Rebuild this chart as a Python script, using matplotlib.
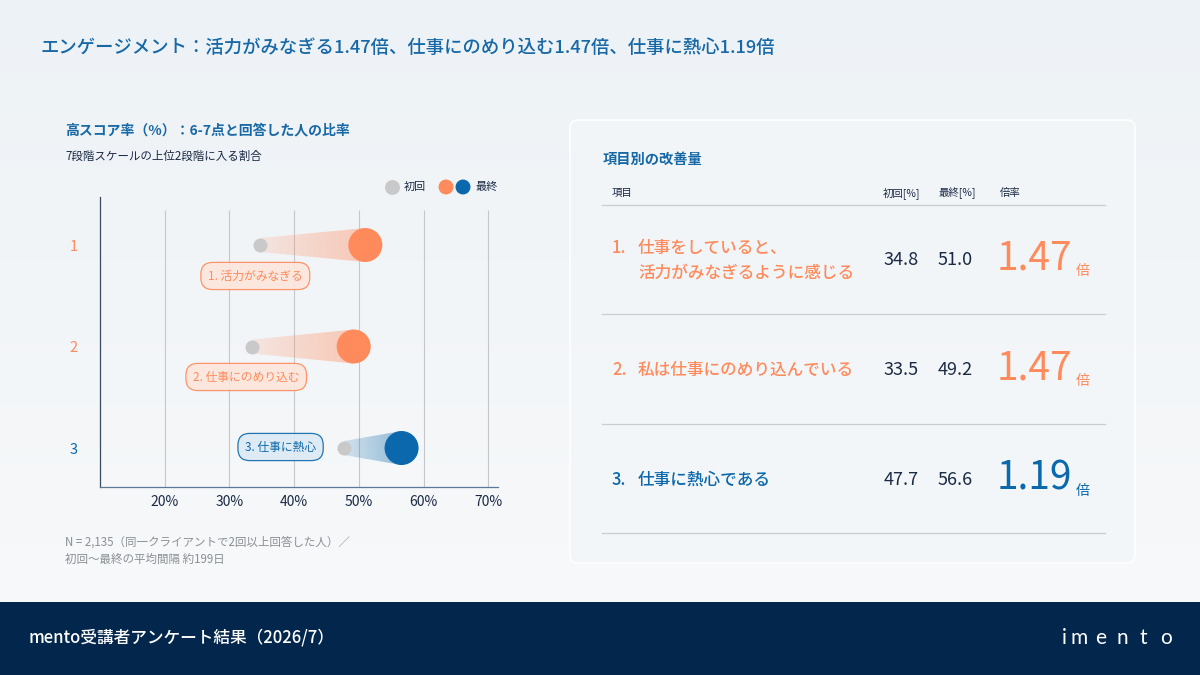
import numpy as np
import matplotlib
matplotlib.use('Agg')
import matplotlib.pyplot as plt
from matplotlib.patches import FancyBboxPatch, Polygon, Rectangle

plt.rcParams['font.family'] = ['Noto Sans CJK JP', 'DejaVu Sans']

# data
rows = ['1', '2', '3']
first = [34.8, 33.5, 47.7]
last = [51.0, 49.2, 56.6]
ratio = [1.47, 1.47, 1.19]
pill_labels = ['1. 活力がみなぎる', '2. 仕事にのめり込む', '3. 仕事に熱心']
table_labels = ['仕事をしていると、\n活力がみなぎるように感じる', '私は仕事にのめり込んでいる', '仕事に熱心である']
xticks = [20, 30, 40, 50, 60, 70]
xtick_labels = ['20%', '30%', '40%', '50%', '60%', '70%']

ORANGE = '#FF8A5B'
BLUE = '#0B68AC'
GRAY = '#C9C9C9'
NAVY = '#1A2A44'
TITLE = '#1668A6'
row_colors = [ORANGE, ORANGE, BLUE]
pill_fill = ['#FDE6DC', '#FDE6DC', '#DDEAF4']

fig = plt.figure(figsize=(12, 6.75), dpi=100)
bg = fig.add_axes([0, 0, 1, 1])
bg.set_xlim(0, 1200)
bg.set_ylim(675, 0)
bg.axis('off')

# background: soft gradient
grad = np.linspace(0, 1, 256)[:, None]
c_top = np.array([0.93, 0.95, 0.965])
c_bot = np.array([0.97, 0.975, 0.98])
img = c_top * (1 - grad[..., None]) + c_bot * grad[..., None]
img = np.repeat(img, 4, axis=1)
bg.imshow(img, extent=[0, 1200, 602, 0], aspect='auto', zorder=0)

# title
bg.text(40, 48, 'エンゲージメント：活力がみなぎる1.47倍、仕事にのめり込む1.47倍、仕事に熱心1.19倍',
        fontsize=13.2, color=TITLE, va='center', ha='left', fontweight='medium')

# left chart header
bg.text(65, 130, '高スコア率（%）：6-7点と回答した人の比率', fontsize=10, color=TITLE,
        va='center', fontweight='bold')
bg.text(65, 156, '7段階スケールの上位2段階に入る割合', fontsize=8.3, color=NAVY, va='center')

# legend
bg.scatter([392], [187], s=95, color=GRAY, zorder=3)
bg.text(404, 187, '初回', fontsize=8, color=NAVY, va='center')
bg.scatter([446, 463], [187, 187], s=95, color=[ORANGE, BLUE], zorder=3)
bg.text(475, 187, '最終', fontsize=8, color=NAVY, va='center')

# footnote
bg.text(65, 542, 'N = 2,135（同一クライアントで2回以上回答した人）／', fontsize=8.3,
        color='#8A8F96', va='center')
bg.text(65, 559, '初回〜最終の平均間隔 約199日', fontsize=8.3, color='#8A8F96', va='center')

# dot chart
ax = fig.add_axes([100 / 1200, (675 - 487) / 675, 398 / 1200, 290 / 675])
ax.patch.set_alpha(0)
ypos = np.arange(1, len(rows) + 1)
r_small, r_big = 7 / 101.5, 17 / 101.5
for i, y in enumerate(ypos):
    x0, x1 = first[i], last[i]
    poly = Polygon([(x0, y - r_small), (x1, y - r_big), (x1, y + r_big), (x0, y + r_small)],
                   closed=True, fc='none', ec='none', transform=ax.transData)
    ax.add_patch(poly)
    rgba = np.zeros((1, 100, 4))
    rgba[..., :3] = matplotlib.colors.to_rgb(row_colors[i])
    rgba[..., 3] = np.linspace(0.15, 0.42, 100)
    im = ax.imshow(rgba, extent=[x0, x1, y + r_big, y - r_big], aspect='auto', zorder=2,
                   interpolation='bilinear')
    im.set_clip_path(poly)
ax.scatter(first, ypos, s=102, color=GRAY, zorder=3, linewidths=0)
ax.scatter(last, ypos, s=600, color=row_colors, zorder=4, linewidths=0)

pill_pos = [(34.0, 1.305, 'center'), (32.6, 2.3, 'center'), (43.4, 2.99, 'right')]
for i, (px, py, ha) in enumerate(pill_pos):
    ax.text(px, py, pill_labels[i], fontsize=8.5, color=row_colors[i], ha=ha, va='center',
            zorder=5,
            bbox=dict(boxstyle='round,pad=0.6,rounding_size=1.0', fc=pill_fill[i],
                      ec=row_colors[i], lw=0.9, alpha=0.9))

ax.vlines(xticks, 0.655, 3.384, color='#C4C8CC', lw=0.8, zorder=1)
ax.set_xlim(10, 71.5)
ax.set_ylim(3.384, 0.527)
ax.set_xticks(xticks)
ax.set_xticklabels(xtick_labels, fontsize=10, color=NAVY)
ax.set_yticks(ypos)
ax.set_yticklabels(rows, fontsize=10.5)
for lab, c in zip(ax.get_yticklabels(), row_colors):
    lab.set_color(c)
ax.tick_params(axis='x', length=0, pad=6)
ax.tick_params(axis='y', length=0, pad=16)
for s in ['top', 'right']:
    ax.spines[s].set_visible(False)
ax.spines['left'].set_color('#3A4A60')
ax.spines['bottom'].set_color('#5A7A98')
ax.spines['left'].set_linewidth(0.9)
ax.spines['bottom'].set_linewidth(0.9)

# right table panel
panel = FancyBboxPatch((570, 120), 565, 443, boxstyle='round,pad=0,rounding_size=8',
                       fc='#F3F6F8', ec='#FFFFFF', lw=1.2, alpha=0.92, zorder=1)
bg.add_patch(panel)
bg.text(603, 160, '項目別の改善量', fontsize=10.3, color=TITLE, va='center', fontweight='bold', zorder=2)
for hx, ht in [(612, '項目'), (883, '初回[%]'), (938, '最終[%]'), (1000, '倍率')]:
    bg.text(hx, 193, ht, fontsize=7.5, color=NAVY, va='center', zorder=2)
for ly in [205, 314, 424, 533]:
    bg.plot([602, 1105], [ly, ly], color='#C9CDD2', lw=0.9, zorder=2)

row_y = [260, 370, 480]
for i, y in enumerate(row_y):
    c = row_colors[i]
    num_y = y - 12 if '\n' in table_labels[i] else y
    bg.text(612, num_y, f'{i + 1}.', fontsize=12, color=c, va='center', zorder=2,
            fontweight='medium')
    bg.text(638, y, table_labels[i], fontsize=12, color=c, va='center', linespacing=1.45,
            zorder=2, fontweight='medium')
    bg.text(884, y, f'{first[i]:.1f}', fontsize=13, color=NAVY, va='center', zorder=2)
    bg.text(938, y, f'{last[i]:.1f}', fontsize=13, color=NAVY, va='center', zorder=2)
    bg.text(1072, y - 2, f'{ratio[i]:.2f}', fontsize=28, color=c, va='center', ha='right',
            zorder=2)
    bg.text(1076, y + 11, '倍', fontsize=10, color=c, va='center', zorder=2)

# footer bar
bg.add_patch(Rectangle((0, 602), 1200, 73, fc='#03274C', ec='none', zorder=3))
bg.text(28, 637, 'mento受講者アンケート結果（2026/7）', fontsize=12, color='white',
        va='center', fontweight='medium', zorder=4)
for k, ch in enumerate('imento'):
    bg.text(1062 + [0, 8, 33, 55, 78, 98][k], 638, ch, fontsize=15, color='white',
            va='center', zorder=4, family=['Lato', 'DejaVu Sans'])

fig.savefig('out.png', dpi=100)
